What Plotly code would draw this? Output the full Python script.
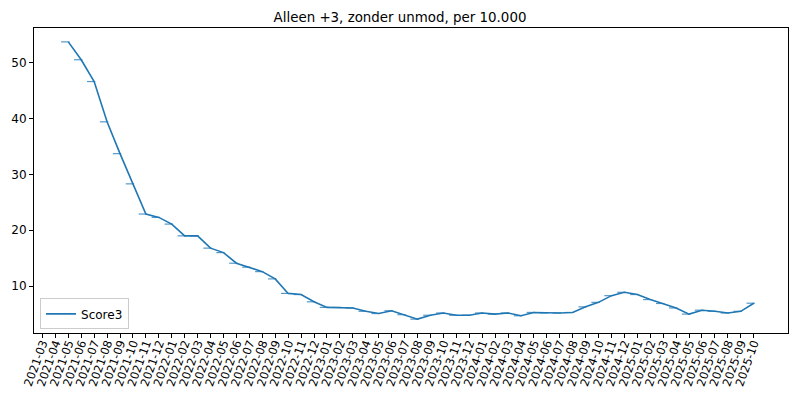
import plotly.graph_objects as go

# maanden op de x-as
months = ['2021-03', '2021-04', '2021-05', '2021-06', '2021-07', '2021-08', '2021-09', '2021-10',
          '2021-11', '2021-12', '2022-01', '2022-02', '2022-03', '2022-04', '2022-05', '2022-06',
          '2022-07', '2022-08', '2022-09', '2022-10', '2022-11', '2022-12', '2023-01', '2023-02',
          '2023-03', '2023-04', '2023-05', '2023-06', '2023-07', '2023-08', '2023-09', '2023-10',
          '2023-11', '2023-12', '2024-01', '2024-02', '2024-03', '2024-04', '2024-05', '2024-06',
          '2024-07', '2024-08', '2024-09', '2024-10', '2024-11', '2024-12', '2025-01', '2025-02',
          '2025-03', '2025-04', '2025-05', '2025-06', '2025-07', '2025-08', '2025-09', '2025-10']

# data begint bij 2021-05
data_months = months[2:]
score3 = [53.7, 50.5, 46.6, 39.4, 33.7, 28.3, 22.9, 22.3, 21.1, 19.0,
          19.0, 16.8, 16.0, 14.1, 13.4, 12.6, 11.3, 8.7, 8.5, 7.2,
          6.2, 6.2, 6.1, 5.5, 5.1, 5.6, 4.9, 4.1, 4.8, 5.2,
          4.8, 4.8, 5.2, 5.0, 5.2, 4.7, 5.3, 5.2, 5.2, 5.3,
          6.3, 7.1, 8.3, 8.9, 8.5, 7.6, 6.9, 6.1, 5.0, 5.7,
          5.5, 5.2, 5.5, 6.95]

blue = '#1f77b4'
xi = [months.index(m) for m in data_months]
cap_shift = 0.23  # streepjes staan iets links van de punten

fig = go.Figure()
fig.add_trace(go.Scatter(x=xi, y=score3, mode='lines', name='Score3',
                         line=dict(color=blue, width=1.6)))
fig.add_trace(go.Scatter(x=[v - cap_shift for v in xi], y=score3, mode='markers',
                         showlegend=False, opacity=0.75,
                         marker=dict(symbol='line-ew', size=6, color=blue,
                                     line=dict(color=blue, width=1.2))))

n = len(xi) - 1
pad = 0.05 * n
ymin, ymax = min(score3), max(score3)
ypad = 0.05 * (ymax - ymin)

fig.update_layout(
    width=800, height=400,
    margin=dict(l=34, r=12, t=28, b=67),
    paper_bgcolor='white', plot_bgcolor='white',
    font=dict(family='DejaVu Sans', size=12, color='black'),
    title=dict(text='Alleen +3, zonder unmod, per 10.000', x=0.5, xanchor='center',
               y=0.957, yanchor='middle', font=dict(size=13.4), automargin=False),
    xaxis=dict(range=[xi[0] - pad, xi[-1] + pad], tickvals=list(range(len(months))),
               ticktext=months, tickangle=-70, showgrid=False, zeroline=False,
               showline=True, linecolor='black', linewidth=1, mirror=True, automargin=False,
               ticks='outside', ticklen=4, tickcolor='black', tickfont=dict(size=11.5),
               ticklabelstandoff=-6),
    yaxis=dict(range=[ymin - ypad, ymax + ypad], tickvals=[10, 20, 30, 40, 50],
               showgrid=False, zeroline=False, automargin=False,
               showline=True, linecolor='black', linewidth=1, mirror=True,
               ticks='outside', ticklen=4, tickcolor='black', tickfont=dict(size=12)),
    legend=dict(x=0.008, y=0.012, xanchor='left', yanchor='bottom',
                bordercolor='#cccccc', borderwidth=1, bgcolor='rgba(255,255,255,0.8)',
                font=dict(size=12), tracegroupgap=0),
)

# standaardmarge van de pagina weghalen, geen modebar
fig.write_html('out.html', config={'displayModeBar': False},
               post_script="document.body.style.margin='0';")
